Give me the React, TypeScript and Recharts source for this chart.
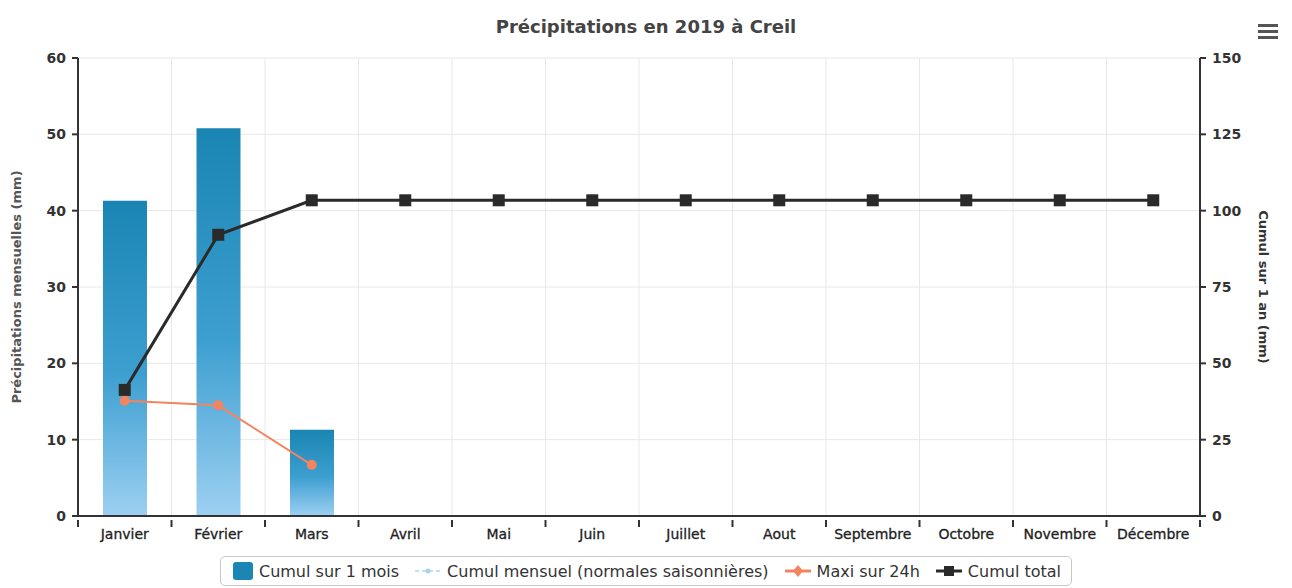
import { ComposedChart, Bar, Line, XAxis, YAxis, CartesianGrid } from 'recharts';

const MONTHS = ['Janvier', 'Février', 'Mars', 'Avril', 'Mai', 'Juin', 'Juillet', 'Aout', 'Septembre', 'Octobre', 'Novembre', 'Décembre'];
const CUMUL_MOIS = [41.3, 50.8, 11.3, null, null, null, null, null, null, null, null, null];
const NORMALES = [null, null, null, null, null, null, null, null, null, null, null, null];
const MAXI_24H = [15.1, 14.5, 6.7, null, null, null, null, null, null, null, null, null];
const CUMUL_TOTAL = [41.3, 92.1, 103.4, 103.4, 103.4, 103.4, 103.4, 103.4, 103.4, 103.4, 103.4, 103.4];
const LEFT_TICKS = [0, 10, 20, 30, 40, 50, 60];
const RIGHT_TICKS = [0, 25, 50, 75, 100, 125, 150];

const data = MONTHS.map((name, i) => ({
  name,
  mois: CUMUL_MOIS[i],
  normales: NORMALES[i],
  maxi: MAXI_24H[i],
  total: CUMUL_TOTAL[i],
}));

const FONT = '"DejaVu Sans", sans-serif';

const SquareDot = (props: any) => {
  const { cx, cy } = props;
  if (cx == null || cy == null) return null;
  return <rect x={cx - 6} y={cy - 6} width={12} height={12} fill="#2a2a2a" />;
};

// month label + tick marks on the category boundaries
const MonthTick = (props: any) => {
  const { x, y, payload, index, width, visibleTicksCount } = props;
  const band = width / visibleTicksCount;
  const top = y - 9;
  return (
    <g>
      <line x1={x - band / 2} y1={top} x2={x - band / 2} y2={top + 7} stroke="#333" strokeWidth={2} />
      {index === visibleTicksCount - 1 && (
        <line x1={x + band / 2} y1={top} x2={x + band / 2} y2={top + 7} stroke="#333" strokeWidth={2} />
      )}
      <text x={x} y={y + 10} textAnchor="middle" fill="#222" fontSize={14} fontFamily={FONT} stroke="#222" strokeWidth={0.3}>
        {payload.value}
      </text>
    </g>
  );
};

function LegendBox() {
  const item = { display: 'flex', alignItems: 'center', marginRight: 14 } as const;
  return (
    <div
      style={{
        border: '1px solid #c8c8c8',
        borderRadius: 5,
        padding: '4px 10px',
        display: 'inline-flex',
        fontFamily: FONT,
        fontSize: 16,
        color: '#333',
        background: '#fff',
      }}
    >
      <div style={item}>
        <svg width={24} height={20}>
          <rect x={2} y={1} width={20} height={18} rx={3} fill="#1b86b4" />
        </svg>
        <span style={{ marginLeft: 4 }}>Cumul sur 1 mois</span>
      </div>
      <div style={item}>
        <svg width={30} height={20}>
          <line x1={2} y1={10} x2={28} y2={10} stroke="#c4e0f3" strokeWidth={2} strokeDasharray="4 3" />
          <circle cx={15} cy={10} r={2.5} fill="#a9d2ef" />
        </svg>
        <span style={{ marginLeft: 4 }}>Cumul mensuel (normales saisonnières)</span>
      </div>
      <div style={item}>
        <svg width={30} height={20}>
          <line x1={2} y1={10} x2={28} y2={10} stroke="#f4845f" strokeWidth={3} />
          <path d="M15 4 L20 10 L15 16 L10 10 Z" fill="#f4845f" />
        </svg>
        <span style={{ marginLeft: 4 }}>Maxi sur 24h</span>
      </div>
      <div style={{ ...item, marginRight: 0 }}>
        <svg width={30} height={20}>
          <line x1={2} y1={10} x2={28} y2={10} stroke="#2a2a2a" strokeWidth={3} />
          <rect x={10} y={5} width={10} height={10} fill="#2a2a2a" />
        </svg>
        <span style={{ marginLeft: 4 }}>Cumul total</span>
      </div>
    </div>
  );
}

export default function App() {
  return (
    <div style={{ position: 'fixed', left: 0, top: 0, width: 1292, height: 588, background: '#fff', overflow: 'hidden' }}>
      <div
        style={{
          position: 'absolute',
          top: 16,
          left: 0,
          width: 1292,
          textAlign: 'center',
          fontFamily: FONT,
          fontWeight: 'bold',
          fontSize: 18,
          color: '#444',
        }}
      >
        Précipitations en 2019 à Creil
      </div>
      <div style={{ position: 'absolute', left: 1258, top: 24 }}>
        {[0, 1, 2].map((k) => (
          <div key={k} style={{ width: 20, height: 3, background: '#555', marginBottom: 3 }} />
        ))}
      </div>
      <ComposedChart
        width={1292}
        height={588}
        data={data}
        margin={{ top: 58, right: 0, bottom: 42, left: 0 }}
        style={{ fontFamily: FONT }}
      >
        <defs>
          <linearGradient id="barGrad" x1="0" y1="0" x2="0" y2="1">
            <stop offset="0%" stopColor="#1a85b3" />
            <stop offset="55%" stopColor="#3d9fd0" />
            <stop offset="100%" stopColor="#9dd0f2" />
          </linearGradient>
        </defs>
        <CartesianGrid
          yAxisId="left"
          stroke="#e8e8e8"
          strokeWidth={1}
          verticalCoordinatesGenerator={({ offset }: any) =>
            MONTHS.map((_, i) => offset.left + ((i + 1) * offset.width) / MONTHS.length)
          }
        />
        <XAxis
          dataKey="name"
          height={30}
          interval={0}
          tickLine={false}
          axisLine={{ stroke: '#333', strokeWidth: 2 }}
          tick={<MonthTick />}
          tickMargin={7}
        />
        <YAxis
          yAxisId="left"
          domain={[0, 60]}
          ticks={LEFT_TICKS}
          width={78}
          axisLine={{ stroke: '#333', strokeWidth: 2 }}
          tickLine={{ stroke: '#333', strokeWidth: 2 }}
          tickSize={6}
          tickMargin={6}
          tick={{ fill: '#333', fontSize: 14, fontFamily: FONT, fontWeight: 'bold' }}
          label={{
            value: 'Précipitations mensuelles (mm)',
            angle: -90,
            position: 'insideLeft',
            offset: 16,
            style: { fill: '#555', fontSize: 13, fontWeight: 'bold', fontFamily: FONT, textAnchor: 'middle' },
          }}
        />
        <YAxis
          yAxisId="right"
          orientation="right"
          domain={[0, 150]}
          ticks={RIGHT_TICKS}
          width={92}
          axisLine={{ stroke: '#333', strokeWidth: 2 }}
          tickLine={{ stroke: '#333', strokeWidth: 2 }}
          tickSize={6}
          tickMargin={6}
          tick={{ fill: '#333', fontSize: 14, fontFamily: FONT, fontWeight: 'bold' }}
          label={{
            value: 'Cumul sur 1 an (mm)',
            angle: 90,
            position: 'insideRight',
            offset: 28,
            style: { fill: '#333', fontSize: 13, fontWeight: 'bold', fontFamily: FONT, textAnchor: 'middle' },
          }}
        />
        <Bar
          yAxisId="left"
          dataKey="mois"
          name="Cumul sur 1 mois"
          barSize={44}
          fill="url(#barGrad)"
          isAnimationActive={false}
        />
        <Line
          yAxisId="left"
          dataKey="normales"
          name="Cumul mensuel (normales saisonnières)"
          stroke="#b9daf0"
          strokeDasharray="4 3"
          dot={false}
          isAnimationActive={false}
        />
        <Line
          yAxisId="left"
          dataKey="maxi"
          name="Maxi sur 24h"
          stroke="#f4845f"
          strokeWidth={2}
          dot={{ r: 4, fill: '#f4845f', stroke: '#f4845f' }}
          activeDot={false}
          isAnimationActive={false}
        />
        <Line
          yAxisId="right"
          dataKey="total"
          name="Cumul total"
          stroke="#2a2a2a"
          strokeWidth={3}
          dot={<SquareDot />}
          activeDot={false}
          isAnimationActive={false}
        />
      </ComposedChart>
      <div style={{ position: 'absolute', left: 0, top: 556, width: 1292, textAlign: 'center' }}>
        <LegendBox />
      </div>
    </div>
  );
}
